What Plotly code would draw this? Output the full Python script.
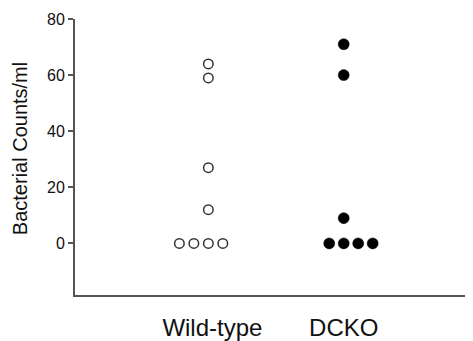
import plotly.graph_objects as go

groups = ["Wild-type", "DCKO"]
wt_values = [64, 59, 27, 12, 0, 0, 0, 0]
wt_slots = [0, 0, 0, 0, -2, -1, 0, 1]
dcko_values = [71, 60, 9, 0, 0, 0, 0]
dcko_slots = [0, 0, 0, -1, 0, 1, 2]
y_ticks = [0, 20, 40, 60, 80]

step = 0.107
wt_x = [1 + s * step for s in wt_slots]
dcko_x = [2 + s * step for s in dcko_slots]

fig = go.Figure()
fig.add_trace(go.Scatter(
    x=wt_x, y=wt_values, mode="markers",
    marker=dict(size=9.5, color="white", line=dict(color="#333333", width=1.5)),
    showlegend=False))
fig.add_trace(go.Scatter(
    x=dcko_x, y=dcko_values, mode="markers",
    marker=dict(size=11, color="black", line=dict(color="black", width=0.5)),
    showlegend=False))

axis_color = "#555555"
fig.update_layout(
    width=465, height=333,
    margin=dict(l=67, r=0, t=11, b=40),
    paper_bgcolor="white", plot_bgcolor="white",
    font=dict(family="Liberation Sans, Arial, sans-serif", color="#111111"),
    xaxis=dict(range=[0.015, 2.955], tickvals=[1.03, 2], ticktext=groups,
               showgrid=False, zeroline=False, showline=True,
               linecolor=axis_color, linewidth=1.8, ticks="",
               tickfont=dict(size=24), ticklabelstandoff=10),
    yaxis=dict(range=[-18.4, 80], tickvals=y_ticks,
               showgrid=False, zeroline=False, showline=True,
               linecolor=axis_color, linewidth=1.8, ticks="outside",
               ticklen=5, tickwidth=1.5, tickcolor=axis_color,
               tickfont=dict(size=16)),
    annotations=[dict(text="Bacterial Counts/ml", textangle=-90,
                      xref="paper", yref="paper",
                      x=(12 - 67) / 398, y=(293 - 144) / 282,
                      xanchor="center", yanchor="middle", showarrow=False,
                      font=dict(size=20))],
)

fig.write_html("out.html")
